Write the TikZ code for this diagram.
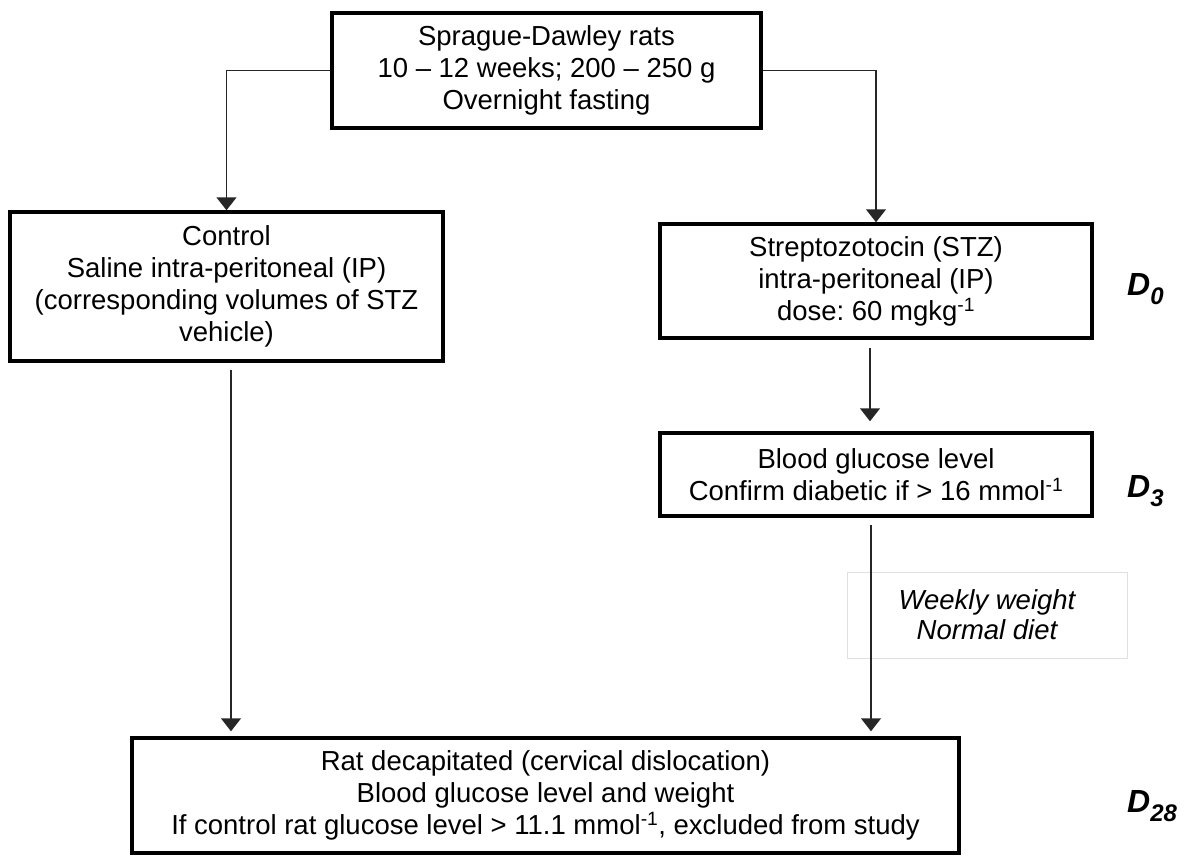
\documentclass[tikz,border=0pt]{standalone}
\usepackage{fontspec}
\setmainfont{Liberation Sans}
\usetikzlibrary{arrows.meta}
\frenchspacing
\begin{document}
\begin{tikzpicture}[x=1pt,y=-1pt,
  box/.style={draw=black,line width=3.5pt,align=center,inner sep=0pt,
    font=\fontsize{27.5}{32}\selectfont},
  conn/.style={draw=black!85,line width=1.5pt,-{Triangle[width=20pt,length=13pt]}},
  daylbl/.style={anchor=base west,inner sep=0pt,font=\fontsize{32}{32}\selectfont\bfseries\itshape}]
\useasboundingbox (0,0) rectangle (1193,855);
\fill[white] (0,0) rectangle (1193,855);
\node[box,minimum width=429pt,minimum height=115pt] (top) at (546.5,70.5)
  {Sprague-Dawley rats\\10 – 12 weeks; 200 – 250 g\\Overnight fasting};
\node[box,minimum width=433pt,minimum height=149pt] (ctrl) at (226.5,286.5)
  {Control\\Saline intra-peritoneal (IP)\\(corresponding volumes of STZ\\vehicle)};
\node[box,minimum width=432pt,minimum height=114pt] (stz) at (876,281)
  {Streptozotocin (STZ)\\intra-peritoneal (IP)\\dose: 60 mgkg\textsuperscript{-1}};
\node[box,minimum width=432pt,minimum height=83pt] (blood) at (876,474.5)
  {Blood glucose level\\Confirm diabetic if > 16 mmol\textsuperscript{-1}};
\node[box,draw=black!12,line width=1pt,minimum width=280pt,minimum height=86pt,
  font=\fontsize{27.5}{30}\selectfont\itshape] (weekly) at (987,615)
  {Weekly weight\\Normal diet};
\node[box,minimum width=827pt,minimum height=115pt] (bottom) at (545.5,795.5)
  {Rat decapitated (cervical dislocation)\\Blood glucose level and weight\\If control rat glucose level > 11.1 mmol\textsuperscript{-1}, excluded from study};
\node[daylbl] (d0) at (1127,295) {D\raisebox{-9pt}{\fontsize{24}{24}\selectfont 0}};
\node[daylbl] (d3) at (1127,497) {D\raisebox{-9pt}{\fontsize{24}{24}\selectfont 3}};
\node[daylbl] (d28) at (1127,812) {D\raisebox{-9pt}{\fontsize{24}{24}\selectfont 28}};
% connectors
\draw[conn] (top.west) -| (ctrl.north);
\draw[conn] (top.east) -| (stz.north);
\coordinate (s1) at ([xshift=-6pt,yshift=-8pt]stz.south);
\coordinate (e1) at ([xshift=-6pt,yshift=10pt]blood.north);
\draw[conn] (s1) -- (e1);
\coordinate (bt) at ([yshift=5pt]bottom.north);
\coordinate (s2) at ([xshift=-5pt,yshift=-7pt]blood.south);
\draw[conn] (s2) -- (s2 |- bt);
\coordinate (s3) at ([xshift=4.5pt,yshift=-7pt]ctrl.south);
\draw[conn] (s3) -- (s3 |- bt);
\end{tikzpicture}
\end{document}
